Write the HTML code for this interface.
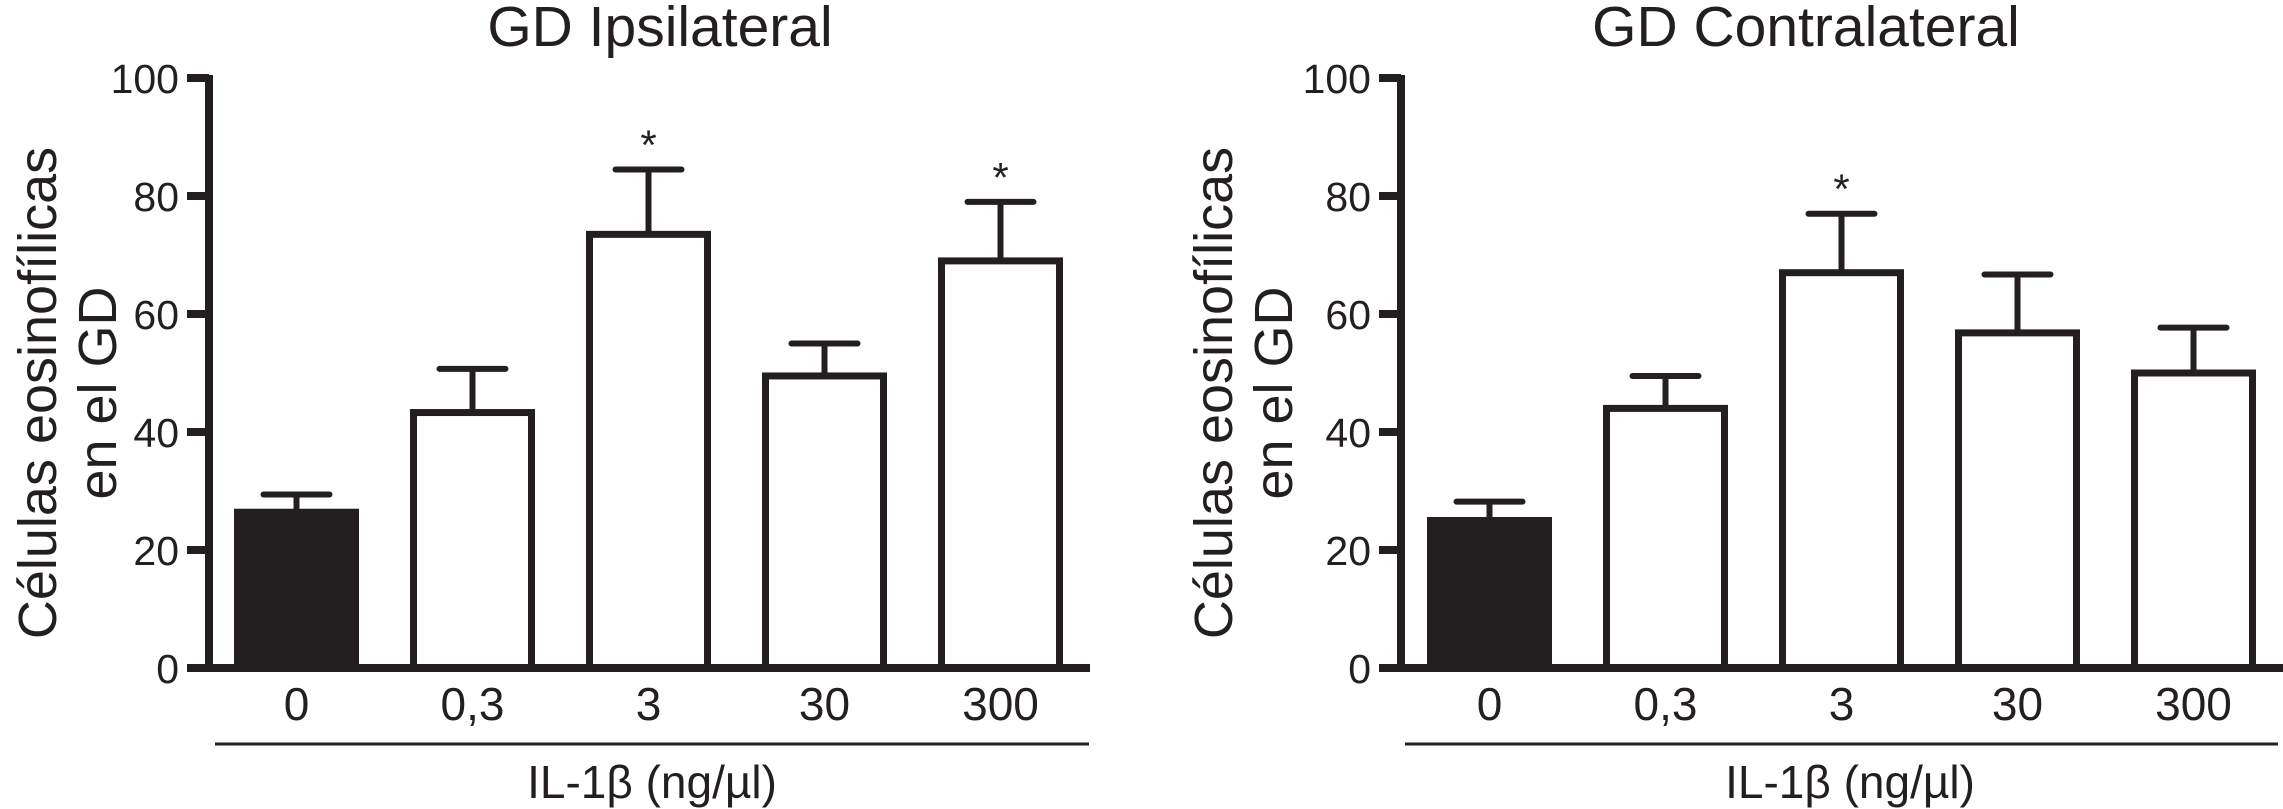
<!DOCTYPE html>
<html><head><meta charset="utf-8"><style>
html,body{margin:0;padding:0;background:#fff;}
svg{display:block;}
text{font-family:"Liberation Sans",Arial,sans-serif;fill:#231f20;}
</style></head><body>
<svg id="chart" width="2283" height="809" viewBox="0 0 2283 809" xmlns="http://www.w3.org/2000/svg"></svg>
<script>
const categories = ["0","0,3","3","30","300"];
const ipsiValues = [26.4, 43.3, 73.5, 49.5, 69];
const ipsiErrors = [3.0, 7.4, 11.0, 5.5, 10.0];
const ipsiSig = [false, false, true, false, true];
const contraValues = [25, 44, 67, 56.8, 50];
const contraErrors = [3.2, 5.5, 10.0, 9.9, 7.7];
const contraSig = [false, false, true, false, false];
const yTicks = [0, 20, 40, 60, 80, 100];

const svg = document.getElementById('chart');
const NS = 'http://www.w3.org/2000/svg';
function mk(tag, attrs, parent){const e=document.createElementNS(NS,tag);for(const k in attrs)e.setAttribute(k,attrs[k]);(parent||svg).appendChild(e);return e;}

function panel(cfg){
  const g = mk('g',{});
  
  
  const y0=668, y100=78;
  const yScale = v => y0 - (y0-y100)*v/100;
  const xBar = i => cfg.bar0 + i*176;
  const bw = 125, sw = 7;
  const t = mk('text',{x:cfg.titleX,y:46,'font-size':57,'text-anchor':'middle'},g);
  t.textContent = cfg.title;
  
  
  const yl = mk('text',{transform:`translate(${cfg.ylX},393) rotate(-90)`,'font-size':54,'text-anchor':'middle'},g);
  
  
  const s1 = mk('tspan',{x:0,y:0},yl); s1.textContent='Células eosinofílicas';
  const s2 = mk('tspan',{x:0,y:60},yl); s2.textContent='en el GD';
  for(let i=0;i<categories.length;i++){
    const v=cfg.values[i], e=cfg.errors[i];
    const x=xBar(i), cx=x+bw/2, yt=yScale(v), ye=yScale(v+e);
    const eb = mk('path',{d:`M${cx},${yt} V${ye} M${cx-33},${ye} H${cx+33}`,stroke:'#231f20','stroke-width':6,fill:'none','stroke-linecap':'round'},g);
    
    
    const r = mk('rect',{x:x+sw/2,y:yt,width:bw-sw,height:y0-yt,fill:i===0?'#231f20':'#fff',stroke:'#231f20','stroke-width':sw},g);
    
    
    if(cfg.sig[i]){
      const st = mk('text',{x:cx,y:ye-10,'font-size':42,'text-anchor':'middle'},g);
      st.textContent='*';
      
      
    }
    const lab = mk('text',{x:cx,y:720,'font-size':46,'text-anchor':'middle'},g);
    lab.textContent=categories[i];
    
    
  }
  const ya = mk('line',{x1:cfg.axisX,y1:y100-3,x2:cfg.axisX,y2:y0+3,stroke:'#231f20','stroke-width':8},g);
  
  
  const xa = mk('line',{x1:cfg.axisX-22,y1:y0,x2:cfg.axisEnd,y2:y0,stroke:'#231f20','stroke-width':8},g);
  
  
  for(const tv of yTicks){
    const y=yScale(tv);
    const tk = mk('line',{x1:cfg.axisX-22,y1:y,x2:cfg.axisX,y2:y,stroke:'#231f20','stroke-width':8},g);
    
    
    const tl = mk('text',{x:cfg.axisX-30,y:y+15,'font-size':41,'text-anchor':'end'},g);
    tl.textContent=String(tv);
    
    
  }
  const ul = mk('line',{x1:cfg.ulX1,y1:744,x2:cfg.ulX2,y2:744,stroke:'#231f20','stroke-width':3},g);
  
  
  const xl = mk('text',{x:cfg.xlX,y:798,'font-size':46,'text-anchor':'middle'},g);
  xl.textContent='IL-1β (ng/µl)';
  
  
}
panel({name:'ipsilateral-panel',title:'GD Ipsilateral',titleX:660,ylX:56,values:ipsiValues,errors:ipsiErrors,sig:ipsiSig,bar0:234,axisX:209,axisEnd:1090,ulX1:215,ulX2:1089,xlX:652});
panel({name:'contralateral-panel',title:'GD Contralateral',titleX:1806,ylX:1232,values:contraValues,errors:contraErrors,sig:contraSig,bar0:1427,axisX:1401,axisEnd:2283,ulX1:1405,ulX2:2278,xlX:1850});
</script>
</body></html>
